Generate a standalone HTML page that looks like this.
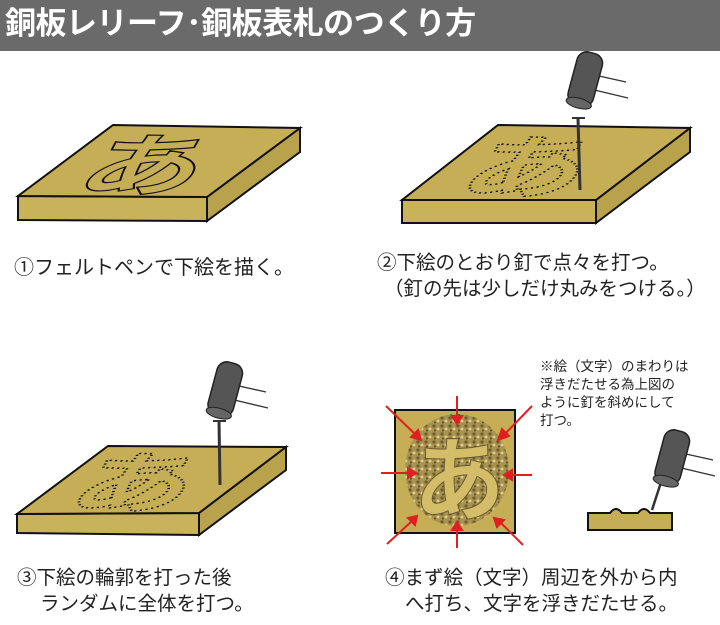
<!DOCTYPE html>
<html><head><meta charset="utf-8"><style>
html,body{margin:0;padding:0;background:#fff;}
body{width:720px;height:625px;position:relative;overflow:hidden;font-family:"Liberation Sans","Noto Sans CJK JP",sans-serif;}
.hdr{position:absolute;left:0;top:0;width:720px;height:51px;background:#6a6a6a;}
.title{position:absolute;left:5px;top:4px;color:#fff;font-size:31px;font-weight:bold;white-space:nowrap;letter-spacing:-0.5px;line-height:40px;}
.t{position:absolute;font-size:19.5px;color:#222;white-space:nowrap;line-height:26px;}
.n{position:absolute;font-size:13.5px;color:#222;white-space:nowrap;line-height:18px;}
svg{position:absolute;left:0;top:0;}
</style></head><body>
<div class="hdr"></div>
<div class="title">銅板レリーフ･銅板表札のつくり方</div>
<svg width="720" height="625" viewBox="0 0 720 625">
<defs>
<g id="hammer">
<line x1="20" y1="22" x2="56" y2="30" stroke="#333" stroke-width="1.3"/>
<line x1="16" y1="36" x2="58" y2="46" stroke="#333" stroke-width="1.3"/>
<g transform="rotate(15 15 28)"><rect x="2" y="0" width="26" height="54" rx="10" fill="#555" stroke="#222" stroke-width="1.5"/><ellipse cx="15" cy="52" rx="13" ry="5" fill="#666" stroke="#222"/></g>
</g>
<pattern id="grav" width="8" height="8" patternUnits="userSpaceOnUse">
<rect width="8" height="8" fill="#a8924f"/>
<circle cx="2" cy="2" r="1.6" fill="#6e5c30"/>
<circle cx="6" cy="5" r="1.4" fill="#e0cf90"/>
<circle cx="3" cy="6.5" r="1" fill="#5a4a28"/>
</pattern>
</defs>
<!-- panel1 -->
<polygon points="18,196 207,197 207,221 18,220" fill="#c8b35a" stroke="#111" stroke-width="2"/>
<polygon points="207,197 300,128 300,152 207,221" fill="#b8a34c" stroke="#111" stroke-width="2"/>
<polygon points="113,125 300,128 207,197 18,196" fill="#c5ae55" stroke="#111" stroke-width="2"/>
<g transform="translate(132,190) skewX(-30) scale(1.5,0.85)"><text x="0" y="0" text-anchor="middle" font-size="80" font-weight="bold" fill="#c5ae55" stroke="#111" stroke-width="1.4" font-family="Noto Sans CJK JP">あ</text></g>
<!-- panel2 -->
<polygon points="402,200 596,200 596,223 402,223" fill="#c8b35a" stroke="#111" stroke-width="2"/>
<polygon points="596,200 690,128 690,152 596,223" fill="#b8a34c" stroke="#111" stroke-width="2"/>
<polygon points="498,125 690,128 596,200 402,200" fill="#c5ae55" stroke="#111" stroke-width="2"/>
<g transform="translate(515,192) skewX(-30) scale(1.5,0.85)"><text x="0" y="0" text-anchor="middle" font-size="80" font-weight="bold" fill="none" stroke="#111" stroke-width="1.7" stroke-dasharray="1.4 2.2" font-family="Noto Sans CJK JP">あ</text></g>
<line x1="578" y1="118" x2="580" y2="190" stroke="#333" stroke-width="3"/>
<line x1="572" y1="118" x2="585" y2="118" stroke="#333" stroke-width="2"/>
<use href="#hammer" x="570" y="52"/>
<!-- panel3 -->
<polygon points="17,514 199,513 199,535 17,533" fill="#c8b35a" stroke="#111" stroke-width="2"/>
<polygon points="199,513 286,447 286,470 199,535" fill="#b8a34c" stroke="#111" stroke-width="2"/>
<polygon points="108,446 286,447 199,513 17,514" fill="#c5ae55" stroke="#111" stroke-width="2"/>
<g transform="translate(123,507) skewX(-30) scale(1.5,0.85)"><text x="0" y="0" text-anchor="middle" font-size="78" font-weight="bold" fill="none" stroke="#111" stroke-width="1.7" stroke-dasharray="1.4 2.2" font-family="Noto Sans CJK JP">あ</text></g>
<line x1="219" y1="421" x2="220" y2="485" stroke="#333" stroke-width="3"/>
<line x1="213" y1="421" x2="226" y2="421" stroke="#333" stroke-width="2"/>
<use href="#hammer" x="210" y="362"/>
<!-- panel4 -->
<rect x="395" y="410" width="120" height="123" fill="#c5ae55" stroke="#111" stroke-width="2"/>
<ellipse cx="457" cy="470" rx="52" ry="56" fill="url(#grav)"/>
<text x="459" y="513" text-anchor="middle" font-size="92" font-weight="bold" fill="#d4bd68" stroke="#6a5a30" stroke-width="1" font-family="Noto Sans CJK JP">あ</text>
<g stroke="#e02020" stroke-width="2" fill="#e02020">
<line x1="457" y1="396" x2="457" y2="418"/><polygon points="452,416 462,416 457,424"/>
<line x1="457" y1="548" x2="457" y2="528"/><polygon points="452,530 462,530 457,522"/>
<line x1="381" y1="473" x2="410" y2="473"/><polygon points="408,468 408,478 416,473"/>
<line x1="532" y1="475" x2="510" y2="475"/><polygon points="512,470 512,480 504,475"/>
<line x1="386" y1="406" x2="417" y2="436"/><polygon points="411,437 418,430 421,440"/>
<line x1="532" y1="406" x2="503" y2="436"/><polygon points="502,429 509,436 498,440"/>
<line x1="387" y1="544" x2="412" y2="521"/><polygon points="408,518 415,525 417,516"/>
<line x1="523" y1="545" x2="500" y2="522"/><polygon points="497,527 504,520 494,518"/>
</g>
<path d="M588,530 L588,513 L610,513 Q616,505 622,513 L638,513 Q644,505 650,513 L672,513 L672,530 Z" fill="#c5ae55" stroke="#111" stroke-width="2"/>
<line x1="665" y1="470" x2="652" y2="510" stroke="#333" stroke-width="2.5"/>
<use href="#hammer" x="657" y="430"/>
</svg>
<div class="t" style="left:14px;top:255px;font-size:20px;">①フェルトペンで下絵を描く。</div>
<div class="t" style="left:377px;top:250px;">②下絵のとおり釘で点々を打つ。</div>
<div class="t" style="left:384px;top:276px;">（釘の先は少しだけ丸みをつける。）</div>
<div class="t" style="left:17px;top:565px;">③下絵の輪郭を打った後</div>
<div class="t" style="left:40px;top:591px;">ランダムに全体を打つ。</div>
<div class="t" style="left:385px;top:565px;">④まず絵（文字）周辺を外から内</div>
<div class="t" style="left:405px;top:591px;">へ打ち、文字を浮きだたせる。</div>
<div class="n" style="left:540px;top:358px;">※絵（文字）のまわりは<br>浮きだたせる為上図の<br>ように釘を斜めにして<br>打つ。</div>
</body></html>
